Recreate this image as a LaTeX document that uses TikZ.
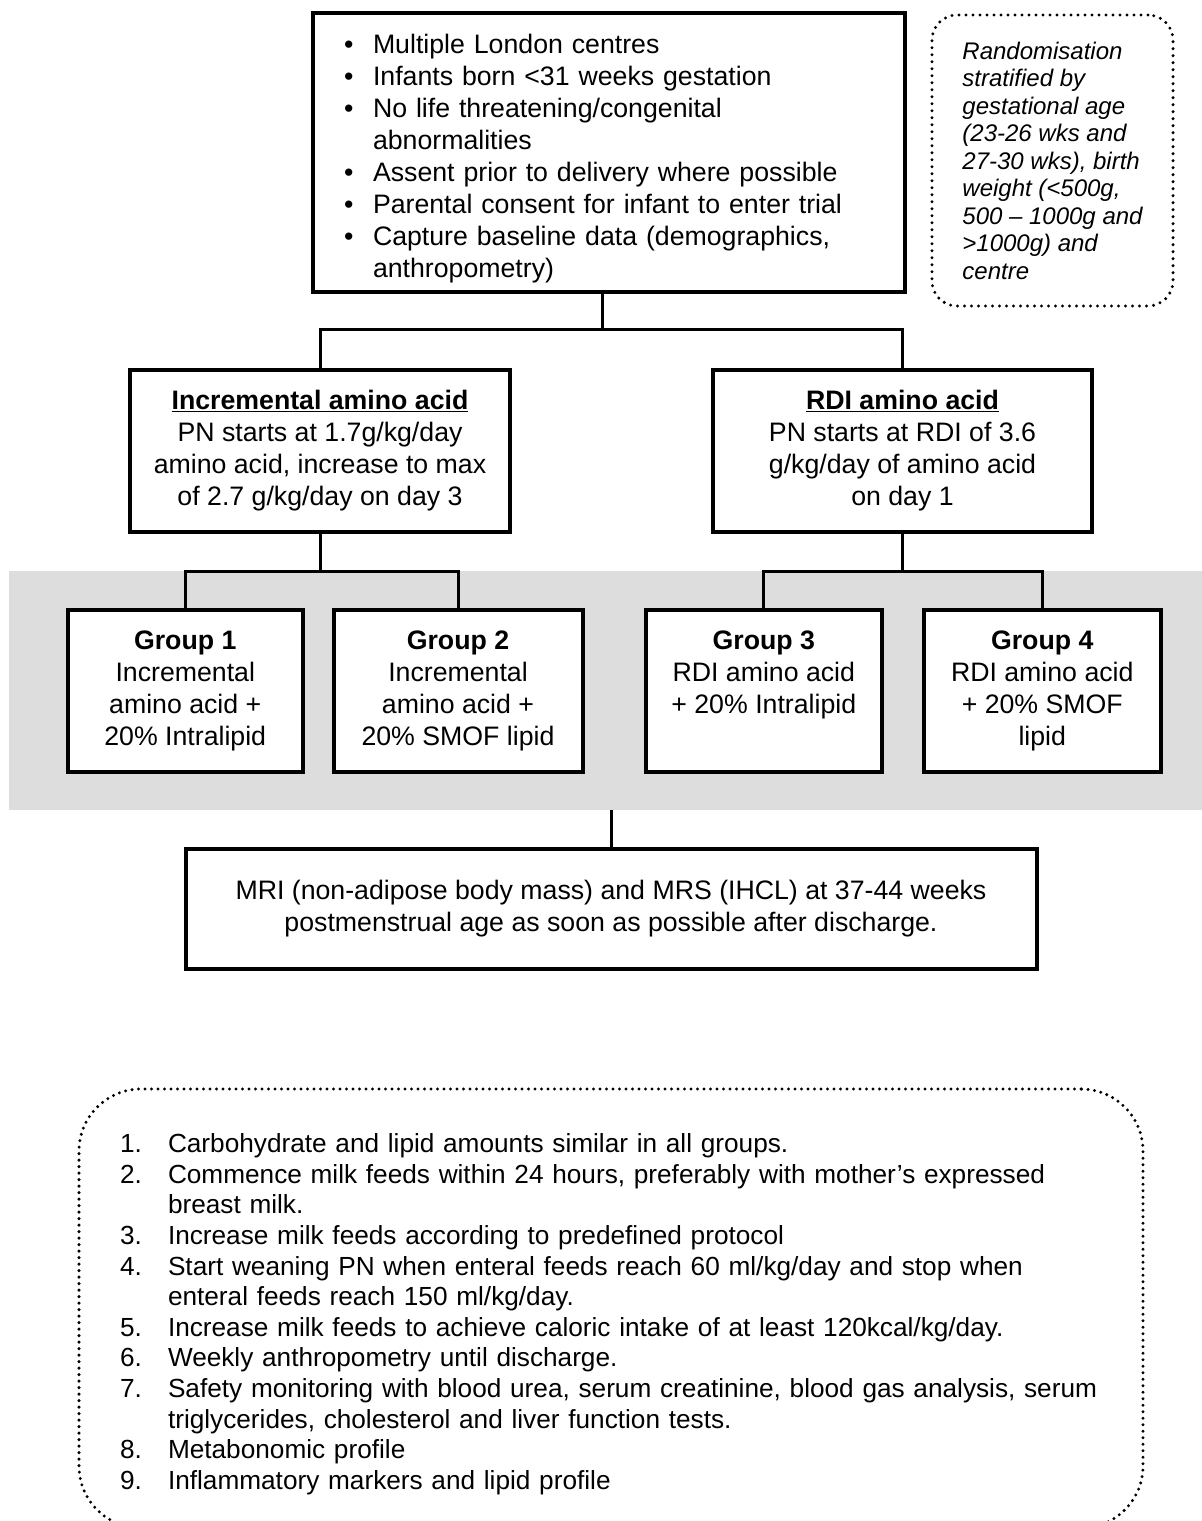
\documentclass[tikz,border=0pt]{standalone}
\usepackage{fontspec}
\setmainfont{Liberation Sans}
\usepackage{enumitem}
\usetikzlibrary{positioning}

\definecolor{bandgray}{RGB}{221,221,221}

\begin{document}
\begin{tikzpicture}[
    x=1pt, y=-1pt,
    font=\fontsize{26.7}{32}\selectfont,
    box/.style={
        draw,
        line width=4pt,
        fill=white,
        outer sep=0pt,
        inner sep=0pt,
        align=center,
        minimum height=162pt
    },
    note/.style={
        draw,
        line width=3.3pt,
        dash pattern=on 0pt off 7pt,
        line cap=round,
        outer sep=0pt
    },
    link/.style={
        line width=3pt
    }
]

    \useasboundingbox (0,0) rectangle (1202,1521);

    % === Entry and randomisation ===
    \node[box, text width=530pt, inner xsep=31pt, minimum height=279pt, align=left] (entry) at (609,152.5) {%
        \begin{itemize}[nosep, label=\textbullet, leftmargin=29pt, labelwidth=10pt, labelsep=19pt, align=left, rightmargin=-20pt]
            \item Multiple London centres
            \item Infants born <31 weeks gestation
            \item No life threatening/congenital\newline abnormalities
            \item Assent prior to delivery where possible
            \item Parental consent for infant to enter trial
            \item Capture baseline data (demographics,\newline anthropometry)
        \end{itemize}};
    \node[note, rounded corners=25pt, minimum width=241pt, minimum height=291pt, align=left,
          font=\fontsize{24}{27.5}\selectfont\itshape] (strata) at (1052.5,160.5)
        {Randomisation\\stratified by\\gestational age\\(23-26 wks and\\27-30 wks), birth\\weight (<500g,\\500 – 1000g and\\>1000g) and\\centre};

    % === Amino acid arms ===
    \node[box, minimum width=380pt] (incr) at (320,451)
        {\underline{\textbf{Incremental amino acid}}\\PN starts at 1.7g/kg/day\\amino acid, increase to max\\of 2.7 g/kg/day on day 3};
    \node[box, minimum width=379pt] (rdi) at (902.5,451)
        {\underline{\textbf{RDI amino acid}}\\PN starts at RDI of 3.6\\g/kg/day of amino acid\\on day 1};

    % === Groups ===
    \node[fill=bandgray, minimum width=1193pt, minimum height=239pt, inner sep=0pt, outer sep=0pt] (band) at (605.5,690.5) {};
    \node[box, minimum width=235.5pt] (g1) at (185.25,691)
        {\textbf{Group 1}\\Incremental\\amino acid +\\20\% Intralipid};
    \node[box, minimum width=249pt, right=30.5pt of g1] (g2)
        {\textbf{Group 2}\\Incremental\\amino acid +\\20\% SMOF lipid};
    \node[box, minimum width=235.6pt] (g3) at (763.8,691)
        {\textbf{Group 3}\\RDI amino acid\\+ 20\% Intralipid\\\vphantom{lipid}};
    \node[box, minimum width=237.3pt, right=42pt of g3] (g4)
        {\textbf{Group 4}\\RDI amino acid\\+ 20\% SMOF\\lipid};

    % === Outcome ===
    \node[box, minimum width=851pt, minimum height=120pt] (scan) at (611,909)
        {MRI (non-adipose body mass) and MRS (IHCL) at 37-44 weeks\\postmenstrual age as soon as possible after discharge.};

    % === Connectors ===
    \coordinate (split) at (602,329);
    \coordinate (lsplit) at (incr.south |- band.north);
    \coordinate (rsplit) at (rdi.south |- band.north);
    \draw[link] (entry.south -| split) -- (split);
    \draw[link] (incr.north) |- (split) -| (rdi.north);
    \draw[link] (incr.south) -- (lsplit);
    \draw[link] (g1.north) |- (lsplit) -| (g2.north);
    \draw[link] (rdi.south) -- (rsplit);
    \draw[link] (g3.north) |- (rsplit) -| (g4.north);
    \draw[link] (scan.north |- band.south) -- (scan.north);

    % === Notes ===
    \node[note, rounded corners=62pt, dash pattern=on 0pt off 6.5pt, text width=982pt, inner xsep=41pt, minimum height=439pt, align=left,
          font=\fontsize{26.2}{30.6}\selectfont] (notes) at (611,1308.5) {%
        \begin{enumerate}[nosep, label=\arabic*., leftmargin=48pt, labelwidth=24pt, labelsep=24pt, align=left, rightmargin=-40pt]
            \item Carbohydrate and lipid amounts similar in all groups.
            \item Commence milk feeds within 24 hours, preferably with mother’s expressed\newline breast milk.
            \item Increase milk feeds according to predefined protocol
            \item Start weaning PN when enteral feeds reach 60 ml/kg/day and stop when\newline enteral feeds reach 150 ml/kg/day.
            \item Increase milk feeds to achieve caloric intake of at least 120kcal/kg/day.
            \item Weekly anthropometry until discharge.
            \item Safety monitoring with blood urea, serum creatinine, blood gas analysis, serum\newline triglycerides, cholesterol and liver function tests.
            \item Metabonomic profile
            \item Inflammatory markers and lipid profile
        \end{enumerate}};

\end{tikzpicture}
\end{document}
